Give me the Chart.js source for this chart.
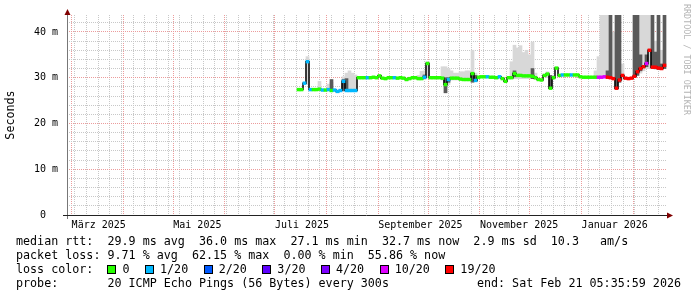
<!DOCTYPE html>
<html>
<head>
<meta charset="utf-8">
<script src="https://cdn.jsdelivr.net/npm/chart.js@4.4.1/dist/chart.umd.min.js"></script>
<style>
  html, body { margin: 0; padding: 0; background: #fff; }
  #wrap { position: relative; width: 697px; height: 297px; overflow: hidden; }
  #chart { position: absolute; left: 0; top: 0; }
  .txt { position: absolute; font-family: "DejaVu Sans Mono", monospace; font-size: 11.7px; line-height: 14px; white-space: pre; color: #000; }
  .box { display: inline-block; width: 7px; height: 7px; border: 1px solid #000; vertical-align: -1px; margin-right: 6px; }
  .item { margin-right: 15.5px; }
  #credit { position: absolute; left: 682px; top: 4px; writing-mode: vertical-rl; font-family: "DejaVu Sans Mono", monospace; font-size: 8.4px; color: #b4b4b4; white-space: pre; }
</style>
</head>
<body>
<div id="wrap">
  <canvas id="chart" width="697" height="297"></canvas>
  <div id="credit">RRDTOOL / TOBI OETIKER</div>
  <div class="txt" style="left:16px;top:234px">median rtt:  29.9 ms avg  36.0 ms max  27.1 ms min  32.7 ms now  2.9 ms sd  10.3   am/s</div>
  <div class="txt" style="left:16px;top:248px">packet loss: 9.71 % avg  62.15 % max  0.00 % min  55.86 % now</div>
  <div class="txt" id="losslegend" style="left:16px;top:262px">loss color:  </div>
  <div class="txt" style="left:16px;top:276px">probe:       20 ICMP Echo Pings (56 Bytes) every 300s</div>
  <div class="txt" style="right:16px;top:276px">end: Sat Feb 21 05:35:59 2026</div>
</div>
<script>
// graph covers 360 days ending Sat Feb 21 05:35:59 2026; x is in days since start
const START = Date.UTC(2025, 1, 26, 5, 36);
const DAY = 86400000;
const X_MAX = 360;
const FIRST_DAY = 138.9;   // first sample (mid July 2025)
const STEP_DAYS = 1.8;     // one consolidated sample

// loss bins and their colours
const lossBins = [0, 1, 2, 3, 4, 10, 19];
const lossNames = ["0", "1/20", "2/20", "3/20", "4/20", "10/20", "19/20"];
const lossColors = ["#26ff00", "#00b8ff", "#0059ff", "#5e00ff", "#7e00ff", "#dd00ff", "#ff0000"];

// median rtt in ms
const median = [
  27.4, 27.4, 28.8, 33.5, 27.4, 27.4, 27.4, 27.5, 27.3, 27.3,
  27.4, 27.2, 27.3, 27.0, 27.2, 29.2, 27.2, 27.2, 27.2, 27.2,
  30.0, 30.0, 30.0, 30.0, 30.0, 30.1, 30.0, 30.4, 29.9, 29.8,
  30.0, 30.0, 30.0, 29.9, 30.0, 29.9, 29.6, 29.8, 30.0, 30.0,
  29.8, 29.8, 30.1, 33.1, 30.0, 30.0, 30.0, 30.0, 29.9, 28.5,
  29.6, 29.9, 29.9, 29.9, 29.7, 29.6, 29.6, 29.6, 30.9, 29.4,
  30.1, 30.2, 30.2, 30.2, 30.1, 30.1, 30.0, 30.2, 29.8, 29.2,
  30.0, 30.0, 30.9, 30.5, 30.5, 30.4, 30.4, 30.4, 30.3, 30.0,
  29.6, 29.5, 30.5, 30.8, 27.7, 30.0, 32.1, 30.5, 30.6, 30.6,
  30.6, 30.6, 30.6, 30.6, 30.2, 30.1, 30.1, 30.1, 30.1, 30.1,
  30.1, 30.1, 30.2, 30.1, 30.0, 29.8, 27.7, 29.5, 30.5, 29.9,
  29.8, 29.9, 30.3, 31.3, 32.0, 32.4, 33.1, 36.0, 32.3, 32.3,
  32.1, 32.0, 32.7
];

// lost pings out of 20 per sample
const loss = [
  0, 0, 1, 1, 1, 0, 0, 0, 1, 0,
  1, 0, 1, 1, 1, 1, 1, 1, 1, 1,
  0, 0, 0, 1, 0, 0, 0, 0, 0, 0,
  0, 0, 1, 0, 0, 0, 0, 0, 0, 0,
  0, 0, 1, 0, 0, 0, 0, 0, 0, 0,
  1, 0, 0, 0, 0, 0, 0, 0, 0, 1,
  0, 0, 0, 1, 0, 0, 0, 1, 0, 0,
  0, 0, 0, 0, 0, 0, 0, 0, 0, 0,
  0, 0, 0, 0, 0, 0, 0, 0, 1, 0,
  0, 1, 0, 0, 0, 0, 0, 0, 0, 0,
  10, 10, 10, 19, 19, 19, 19, 19, 19, 19,
  19, 19, 19, 19, 19, 19, 10, 19, 19, 19,
  19, 19, 19
];

// outer smoke (light) [low, high] in ms
const smokeLight = [
  null, null, null, [28.5, 34.6], null, null, null, [27.4, 29.2], null, null,
  [27.3, 28.6], [27.2, 29.0], null, null, null, [27.2, 30.2], [27.2, 31.0], [27.2, 31.5], [27.2, 31.0], [27.2, 30.6],
  null, null, null, null, null, null, null, null, null, null,
  null, null, null, null, null, null, null, null, null, null,
  [29.6, 30.5], [29.6, 31.4], [29.6, 31.5], [30.0, 33.5], null, null, null, null, [29.5, 32.4], [26.7, 32.4],
  [28.5, 32.0], [29.5, 31.5], [29.5, 31.0], [29.5, 31.0], [29.4, 31.3], [29.4, 31.3], [29.4, 31.5], [29.4, 31.5], [29.2, 36.0], [29.2, 31.0],
  null, null, null, null, null, null, null, null, null, null,
  null, [29.8, 33.5], [29.8, 37.1], [29.8, 36.5], [29.8, 37.0], [29.8, 35.5], [29.8, 36.0], [29.8, 35.0], [29.8, 37.8], [29.6, 31.0],
  null, null, null, [30.0, 31.3], null, null, null, null, null, null,
  null, null, null, null, null, null, null, null, null, [30.0, 31.5],
  [30.0, 34.6], [30.0, 43.7], [30.0, 43.7], [30.0, 43.7], null, [29.8, 40.0], null, null, [29.5, 33.0], null,
  null, null, null, null, [31.0, 43.7], [31.5, 43.7], [32.0, 43.7], [32.0, 43.7], null, [31.8, 38.0],
  null, [31.8, 36.0], null
];

// dense smoke (dark) [low, high] in ms
const smokeDark = [
  null, null, null, null, null, null, null, null, null, null,
  null, [27.3, 29.6], null, null, null, [27.2, 29.6], [27.2, 29.8], null, null, null,
  null, null, null, null, null, null, null, null, null, null,
  null, null, null, null, null, null, null, null, null, null,
  null, null, [29.8, 30.6], null, null, null, null, null, null, [26.7, 30.0],
  [29.0, 30.0], null, null, null, null, null, null, null, [29.0, 31.0], [29.2, 30.5],
  null, null, null, null, null, null, null, null, null, null,
  null, null, [30.2, 31.5], null, null, null, null, null, [29.8, 32.0], null,
  null, null, null, null, [27.7, 30.5], null, null, null, null, null,
  null, null, null, null, null, null, null, null, null, null,
  null, null, null, [30.0, 31.5], [29.8, 43.7], null, [27.5, 43.7], [29.0, 43.7], null, null,
  null, null, [30.0, 43.7], [30.5, 43.7], [31.5, 35.0], null, [32.4, 35.0], null, [32.0, 43.7], [32.0, 35.6],
  [31.8, 43.7], [32.0, 33.0], [32.0, 43.7]
];

// axis ticks
const monthTicks = [[2025, 3], [2025, 4], [2025, 5], [2025, 6], [2025, 7], [2025, 8],
  [2025, 9], [2025, 10], [2025, 11], [2025, 12], [2026, 1], [2026, 2]];
const monthLabels = ["März 2025", "", "Mai 2025", "", "Juli 2025", "", "September 2025", "",
  "November 2025", "", "Januar 2026", ""];
const yTicks = [0, 2, 4, 6, 8, 10, 12, 14, 16, 18, 20, 22, 24, 26, 28, 30, 32, 34, 36, 38, 40, 42];
const yMajor = [0, 10, 20, 30, 40];
const yLabels = ["0  ", "10 m", "20 m", "30 m", "40 m"];
const Y_MAX = 43.7;

const GRID = "#c8c8c8";
const MGRID = "#ec9c9c";
const FONT = "DejaVu Sans Mono";

// legend line
const leg = document.getElementById("losslegend");
lossNames.forEach((name, i) => {
  const b = document.createElement("span");
  b.className = "box";
  b.style.background = lossColors[i];
  leg.appendChild(b);
  const t = document.createElement("span");
  t.className = "item";
  t.textContent = name;
  leg.appendChild(t);
});

const dayOf = (y, m, d) => (Date.UTC(y, m - 1, d) - START) / DAY;
const monthDays = monthTicks.map(([y, m]) => dayOf(y, m, 1));
const weekDays = [];
for (let d = dayOf(2025, 3, 3); d < X_MAX; d += 7) weekDays.push(d);
const xTickVals = [...new Set([...monthDays, ...weekDays])].sort((a, b) => a - b);
const xLabelOf = new Map(monthDays.map((d, i) => [d, monthLabels[i]]));

const xs = median.map((_, i) => FIRST_DAY + i * STEP_DAYS);
const toBars = (arr) => arr.map((r, i) => (r ? { x: xs[i], y: r } : null)).filter(Boolean);
const colorOf = (l) => lossColors[lossBins.indexOf(l)];
const barPx = (STEP_DAYS * 600) / X_MAX;

const axesArrows = {
  id: "axesArrows",
  afterDatasetsDraw(chart) {
    const { ctx, chartArea: a } = chart;
    ctx.save();
    ctx.lineWidth = 1;
    ctx.strokeStyle = "#777";
    ctx.beginPath();
    ctx.moveTo(a.left + 0.5, a.bottom + 4);
    ctx.lineTo(a.left + 0.5, a.top - 3);
    ctx.stroke();
    ctx.strokeStyle = "#222";
    ctx.beginPath();
    ctx.moveTo(a.left - 4, a.bottom + 0.5);
    ctx.lineTo(a.right + 3, a.bottom + 0.5);
    ctx.stroke();
    ctx.fillStyle = "#800000";
    ctx.beginPath();
    ctx.moveTo(a.left + 0.5, a.top - 6);
    ctx.lineTo(a.left - 2.5, a.top);
    ctx.lineTo(a.left + 3.5, a.top);
    ctx.closePath();
    ctx.fill();
    ctx.beginPath();
    ctx.moveTo(a.right + 6, a.bottom + 0.5);
    ctx.lineTo(a.right, a.bottom - 2.5);
    ctx.lineTo(a.right, a.bottom + 3.5);
    ctx.closePath();
    ctx.fill();
    ctx.restore();
  },
};

new Chart(document.getElementById("chart"), {
  type: "bar",
  data: {
    datasets: [
      {
        type: "bar",
        data: median.map((m, i) => ({ x: xs[i], y: [m - 0.3, m + 0.3] })),
        backgroundColor: loss.map(colorOf),
        grouped: false,
        barThickness: barPx,
        order: 1,
      },
      {
        type: "line",
        data: median.map((m, i) => ({ x: xs[i], y: m })),
        borderColor: "#000",
        borderWidth: 1.5,
        pointRadius: 0,
        stepped: "middle",
        order: 2,
      },
      {
        type: "bar",
        data: toBars(smokeDark),
        backgroundColor: "#5a5a5a",
        grouped: false,
        barThickness: barPx,
        order: 3,
      },
      {
        type: "bar",
        data: toBars(smokeLight),
        backgroundColor: "#d8d8d8",
        grouped: false,
        barThickness: barPx,
        order: 4,
      },
    ],
  },
  options: {
    responsive: false,
    animation: false,
    layout: { padding: { top: 13, right: 30, left: 0, bottom: 0 } },
    plugins: { legend: { display: false }, tooltip: { enabled: false } },
    scales: {
      x: {
        type: "linear",
        min: 0,
        max: X_MAX,
        offset: false,
        grid: {
          offset: false,
          drawTicks: false,
          color: (c) => (xLabelOf.has(c.tick && c.tick.value) ? MGRID : GRID),
        },
        border: { display: false, dash: [1, 1] },
        ticks: {
          autoSkip: false,
          maxRotation: 0,
          minRotation: 0,
          align: "start",
          padding: 4,
          color: "#000",
          font: { family: FONT, size: 10 },
          callback: (v) => xLabelOf.get(v) || "",
        },
        afterBuildTicks: (s) => {
          s.ticks = xTickVals.map((v) => ({ value: v }));
        },
        afterFit: (s) => {
          s.height = 82;
        },
      },
      y: {
        min: 0,
        max: Y_MAX,
        grid: {
          drawTicks: false,
          color: (c) => (yMajor.includes(c.tick && c.tick.value) ? MGRID : GRID),
        },
        border: { display: false, dash: [1, 1] },
        ticks: {
          autoSkip: false,
          padding: 9,
          color: "#000",
          font: { family: FONT, size: 10 },
          callback: (v) => {
            const k = yMajor.indexOf(v);
            return k >= 0 ? yLabels[k] : "";
          },
        },
        afterBuildTicks: (s) => {
          s.ticks = yTicks.map((v) => ({ value: v }));
        },
        afterFit: (s) => {
          s.width = 67;
        },
        title: {
          display: true,
          text: "Seconds",
          color: "#000",
          font: { family: FONT, size: 11.7 },
          padding: { top: 4, bottom: 4 },
        },
      },
    },
  },
  plugins: [axesArrows],
});
</script>
</body>
</html>
